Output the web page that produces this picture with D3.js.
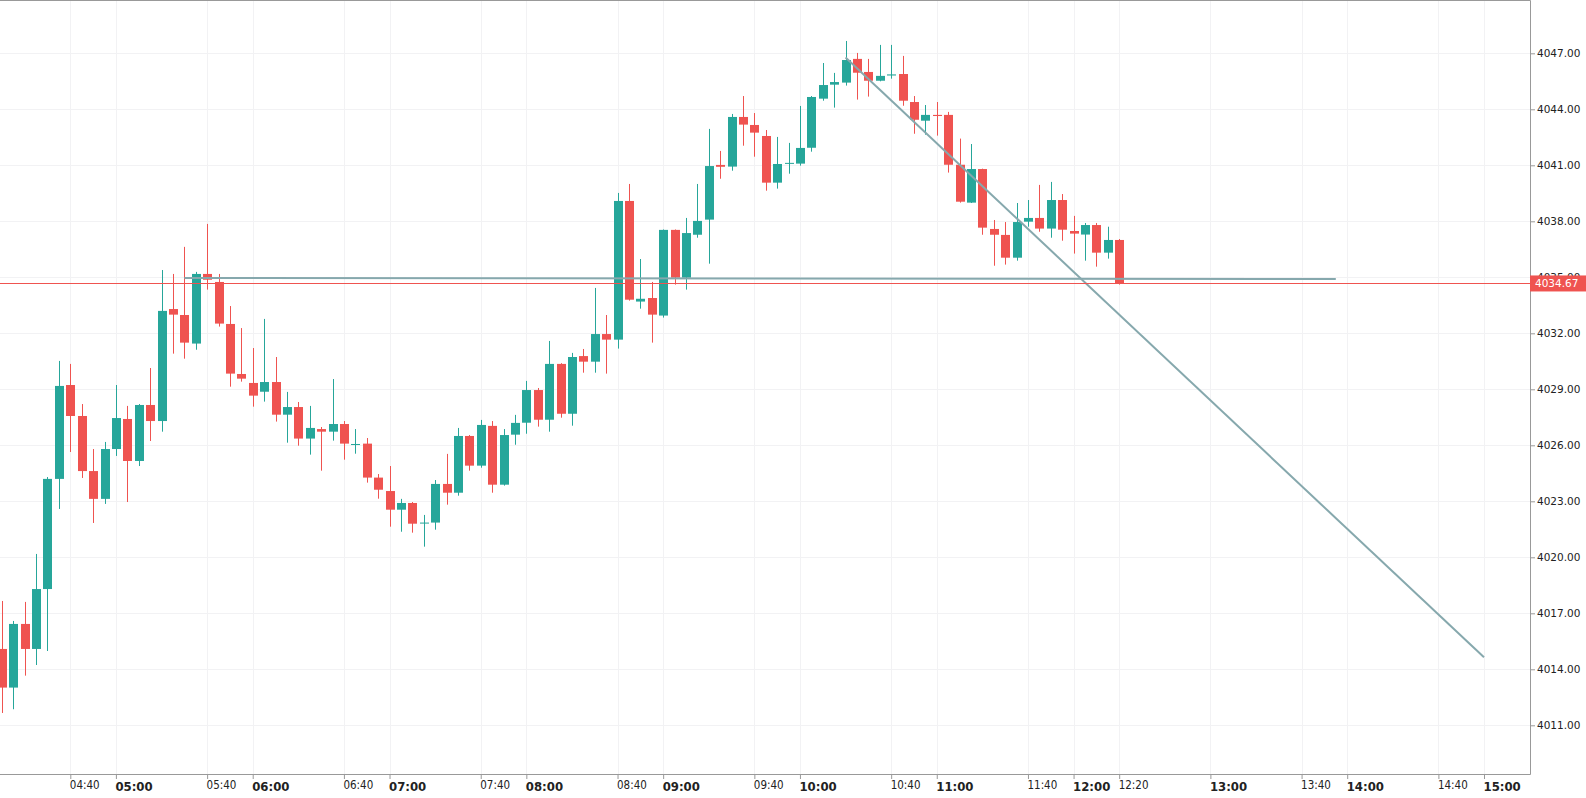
<html>
<head>
  <title>Candles</title>
  <script src="https://d3js.org/d3.v7.min.js"></script>
  <style>
    body { margin: 0; background: #fff; }
  </style>
</head>
<body>
  <script>
    var w = 1586, h = 798;
    var plotW = 1530, plotH = 774;

    // 5 minute bars
    var times = ["04:10","04:15","04:20","04:25","04:30","04:35","04:40","04:45","04:50","04:55",
      "05:00","05:05","05:10","05:15","05:20","05:25","05:30","05:35","05:40","05:45","05:50","05:55",
      "06:00","06:05","06:10","06:15","06:20","06:25","06:30","06:35","06:40","06:45","06:50","06:55",
      "07:00","07:05","07:10","07:15","07:20","07:25","07:30","07:35","07:40","07:45","07:50","07:55",
      "08:00","08:05","08:10","08:15","08:20","08:25","08:30","08:35","08:40","08:45","08:50","08:55",
      "09:00","09:05","09:10","09:15","09:20","09:25","09:30","09:35","09:40","09:45","09:50","09:55",
      "10:00","10:05","10:10","10:15","10:20","10:25","10:30","10:35","10:40","10:45","10:50","10:55",
      "11:00","11:05","11:10","11:15","11:20","11:25","11:30","11:35","11:40","11:45","11:50","11:55",
      "12:00","12:05","12:10","12:15","12:20"];
    var opens = [4015.09,4013.02,4016.43,4015.09,4018.30,4024.20,4029.23,4027.57,4024.62,4023.13,
      4025.80,4027.41,4025.16,4028.16,4027.30,4033.30,4032.98,4031.45,4035.18,4034.75,4032.50,4029.82,
      4029.34,4028.87,4029.39,4027.64,4028.05,4026.36,4026.87,4026.73,4027.14,4026.05,4026.09,4024.27,
      4023.55,4022.55,4022.91,4021.82,4021.86,4023.93,4023.46,4026.50,4024.91,4027.04,4023.89,4026.57,
      4027.21,4028.96,4027.37,4030.36,4027.69,4030.78,4030.48,4031.96,4031.66,4039.09,4033.70,4033.89,
      4032.95,4037.54,4034.98,4037.28,4038.09,4041.02,4040.93,4043.59,4043.16,4042.57,4040.07,4041.08,
      4041.09,4041.94,4044.57,4045.32,4045.43,4046.70,4046.00,4045.53,4045.81,4045.89,4044.39,4043.39,
      4043.70,4043.70,4041.03,4039.00,4040.80,4037.59,4037.27,4036.05,4037.98,4038.18,4037.61,4039.14,
      4037.48,4037.29,4037.80,4036.32,4037.00];
    var highs = [4017.66,4016.59,4017.61,4020.18,4024.30,4030.52,4030.36,4028.21,4025.80,4026.18,
      4029.23,4028.11,4028.21,4030.14,4035.39,4035.18,4036.63,4035.29,4037.86,4035.18,4033.46,4032.28,
      4031.21,4032.77,4030.73,4028.86,4028.32,4028.11,4026.98,4029.55,4027.30,4026.87,4026.39,4024.46,
      4024.89,4023.13,4022.96,4022.27,4024.14,4025.54,4026.93,4026.55,4027.36,4027.30,4026.87,4027.63,
      4029.45,4029.07,4031.59,4030.40,4030.95,4031.16,4034.43,4032.98,4039.52,4040.00,4035.98,4034.75,
      4037.56,4037.56,4038.18,4040.00,4042.95,4041.77,4043.75,4044.71,4043.80,4042.89,4042.52,4042.20,
      4044.18,4044.71,4046.48,4045.95,4047.66,4047.02,4046.70,4047.45,4047.45,4046.86,4044.71,4044.23,
      4044.39,4043.86,4042.43,4042.14,4040.82,4038.07,4037.96,4038.98,4039.14,4039.95,4040.11,4039.46,
      4038.29,4037.91,4037.91,4037.71,4037.05];
    var lows = [4011.66,4011.86,4013.66,4014.23,4014.98,4022.59,4025.64,4024.25,4021.84,4022.86,
      4025.43,4022.96,4024.89,4026.23,4026.73,4030.91,4030.64,4031.12,4034.34,4032.36,4029.14,4029.41,
      4028.07,4028.34,4027.27,4026.14,4025.98,4025.50,4024.64,4026.25,4025.23,4025.55,4024.00,4023.14,
      4021.64,4021.37,4021.32,4020.57,4021.48,4022.82,4023.30,4024.64,4024.80,4023.46,4023.84,4026.03,
      4026.62,4027.00,4026.73,4027.48,4027.05,4029.89,4029.89,4029.84,4031.18,4033.75,4033.32,4031.50,
      4032.84,4034.61,4034.34,4037.12,4035.73,4040.28,4040.71,4042.05,4041.46,4039.64,4039.75,4040.55,
      4040.98,4041.73,4044.46,4044.09,4045.27,4044.52,4044.68,4045.50,4045.64,4044.19,4042.69,4042.64,
      4042.59,4040.61,4039.00,4038.98,4037.28,4035.62,4035.68,4035.89,4037.71,4037.44,4037.12,4036.96,
      4036.27,4035.89,4035.57,4036.00,4034.61];
    var closes = [4013.02,4016.43,4015.09,4018.30,4024.20,4029.18,4027.57,4024.62,4023.13,4025.80,
      4027.46,4025.16,4028.16,4027.30,4033.20,4033.00,4031.50,4035.18,4034.87,4032.52,4029.84,4029.57,
      4028.66,4029.39,4027.64,4028.05,4026.36,4026.93,4026.73,4027.14,4026.09,4026.07,4024.27,4023.62,
      4022.55,4022.91,4021.80,4021.86,4023.93,4023.46,4026.50,4024.91,4027.09,4023.89,4026.55,4027.20,
      4028.96,4027.37,4030.36,4027.69,4030.73,4030.48,4031.96,4031.66,4039.09,4033.80,4033.85,4033.00,
      4037.54,4034.98,4037.37,4038.02,4040.96,4040.92,4043.59,4043.18,4042.75,4040.07,4041.07,4041.13,
      4041.93,4044.66,4045.30,4045.46,4046.64,4045.96,4045.53,4045.79,4045.87,4044.46,4043.44,4043.70,
      4043.64,4041.03,4039.05,4040.80,4037.66,4037.28,4036.05,4037.96,4038.18,4037.61,4039.14,4037.55,
      4037.34,4037.80,4036.32,4037.00,4034.67];

    var xTickLabels = ["04:40","05:00","05:40","06:00","06:40","07:00","07:40","08:00","08:40","09:00",
      "09:40","10:00","10:40","11:00","11:40","12:00","12:20","13:00","13:40","14:00","14:40","15:00"];
    var yTicks = [4011,4014,4017,4020,4023,4026,4029,4032,4035,4038,4041,4044,4047];
    var lastPrice = 4034.67;

    // drawn lines: [start time, start value, end time, end value]
    var trendLine = ["10:20", 4046.77, "15:00", 4014.64];
    var levelLine = ["05:30", 4034.96, "13:55", 4034.91];

    var up = "#26a69a", down = "#ef5350";
    var parse = d3.timeParse("%H:%M");

    var x = d3.scaleTime().domain([parse("04:40"), parse("15:00")]).range([70.3, 1484]);
    var y = d3.scaleLinear().domain([4011, 4047]).range([725.3, 53.3]);

    var bars = times.map(function(t, i) {
      return {t: parse(t), o: opens[i], h: highs[i], l: lows[i], c: closes[i]};
    });
    var step = x(parse("05:05")) - x(parse("05:00"));
    var bw = Math.round(step * 0.8);

    var svg = d3.select("body").append("svg").attr("width", w).attr("height", h);

    // grid
    var xt = xTickLabels.map(parse);
    svg.append("g").selectAll("line").data(xt).enter().append("line")
      .attr("x1", function(d){ return Math.round(x(d)) + 0.5; })
      .attr("x2", function(d){ return Math.round(x(d)) + 0.5; })
      .attr("y1", 0).attr("y2", plotH)
      .attr("stroke", "#f2f2f4").attr("stroke-width", 1);
    svg.append("g").selectAll("line").data(yTicks).enter().append("line")
      .attr("x1", 0).attr("x2", plotW)
      .attr("y1", function(d){ return Math.round(y(d)) + 0.5; })
      .attr("y2", function(d){ return Math.round(y(d)) + 0.5; })
      .attr("stroke", "#f2f2f4").attr("stroke-width", 1);

    // candles
    var cg = svg.append("g");
    cg.selectAll("line.wick").data(bars).enter().append("line").attr("class", "wick")
      .attr("x1", function(d){ return Math.round(x(d.t)) + 0.5; })
      .attr("x2", function(d){ return Math.round(x(d.t)) + 0.5; })
      .attr("y1", function(d){ return y(d.h); })
      .attr("y2", function(d){ return y(d.l); })
      .attr("stroke", function(d){ return d.c >= d.o ? up : down; })
      .attr("stroke-width", 1);
    cg.selectAll("rect").data(bars).enter().append("rect")
      .attr("x", function(d){ return Math.round(x(d.t)) + 0.5 - bw / 2; })
      .attr("width", bw)
      .attr("y", function(d){ return y(Math.max(d.o, d.c)); })
      .attr("height", function(d){ return Math.max(1, Math.abs(y(d.o) - y(d.c))); })
      .attr("fill", function(d){ return d.c >= d.o ? up : down; });

    // drawings
    [levelLine, trendLine].forEach(function(l) {
      svg.append("line")
        .attr("x1", x(parse(l[0]))).attr("y1", y(l[1]))
        .attr("x2", x(parse(l[2]))).attr("y2", y(l[3]))
        .attr("stroke", "#86a8ad").attr("stroke-width", 2);
    });

    // last price line
    svg.append("line")
      .attr("x1", 0).attr("x2", plotW)
      .attr("y1", Math.round(y(lastPrice)) + 0.5).attr("y2", Math.round(y(lastPrice)) + 0.5)
      .attr("stroke", down).attr("stroke-width", 1);

    // x axis
    var xAxis = d3.axisBottom(x).tickValues(xt).tickSize(5).tickSizeOuter(0)
      .tickFormat(d3.timeFormat("%H:%M"));
    var gx = svg.append("g").attr("transform", "translate(0," + plotH + ")").call(xAxis);
    gx.select(".domain").remove();
    gx.selectAll(".tick line").attr("stroke", "#999");
    gx.selectAll(".tick text")
      .attr("text-anchor", "start")
      .attr("x", -1)
      .attr("y", function(d){ return d.getMinutes() === 0 ? 8 : 7; })
      .style("font-family", "'DejaVu Sans Condensed', 'DejaVu Sans', sans-serif")
      .style("font-size", function(d){ return d.getMinutes() === 0 ? "13px" : "11.5px"; })
      .style("font-weight", function(d){ return d.getMinutes() === 0 ? "bold" : "normal"; })
      .attr("fill", "#222");

    // y axis
    var yAxis = d3.axisRight(y).tickValues(yTicks).tickSize(5).tickSizeOuter(0)
      .tickFormat(d3.format(".2f"));
    var gy = svg.append("g").attr("transform", "translate(" + plotW + ",0)").call(yAxis);
    gy.select(".domain").remove();
    gy.selectAll(".tick line").attr("stroke", "#999");
    gy.selectAll(".tick text").attr("x", 7)
      .style("font-family", "'DejaVu Sans', sans-serif").style("font-size", "10.5px")
      .attr("fill", "#222");

    // frame
    svg.append("path")
      .attr("d", "M0,0.5H" + (plotW + 0.5) + "V" + (plotH + 0.5) + "H0")
      .attr("fill", "none").attr("stroke", "#999").attr("stroke-width", 1);

    // price label
    var py = y(lastPrice);
    svg.append("rect").attr("x", plotW).attr("y", py - 8).attr("width", w - plotW).attr("height", 16)
      .attr("fill", down);
    svg.append("text").attr("x", plotW + 5).attr("y", py).attr("dy", "0.35em")
      .style("font-family", "'DejaVu Sans', sans-serif").style("font-size", "10.5px")
      .attr("fill", "#fff").text(d3.format(".2f")(lastPrice));
  </script>
</body>
</html>
